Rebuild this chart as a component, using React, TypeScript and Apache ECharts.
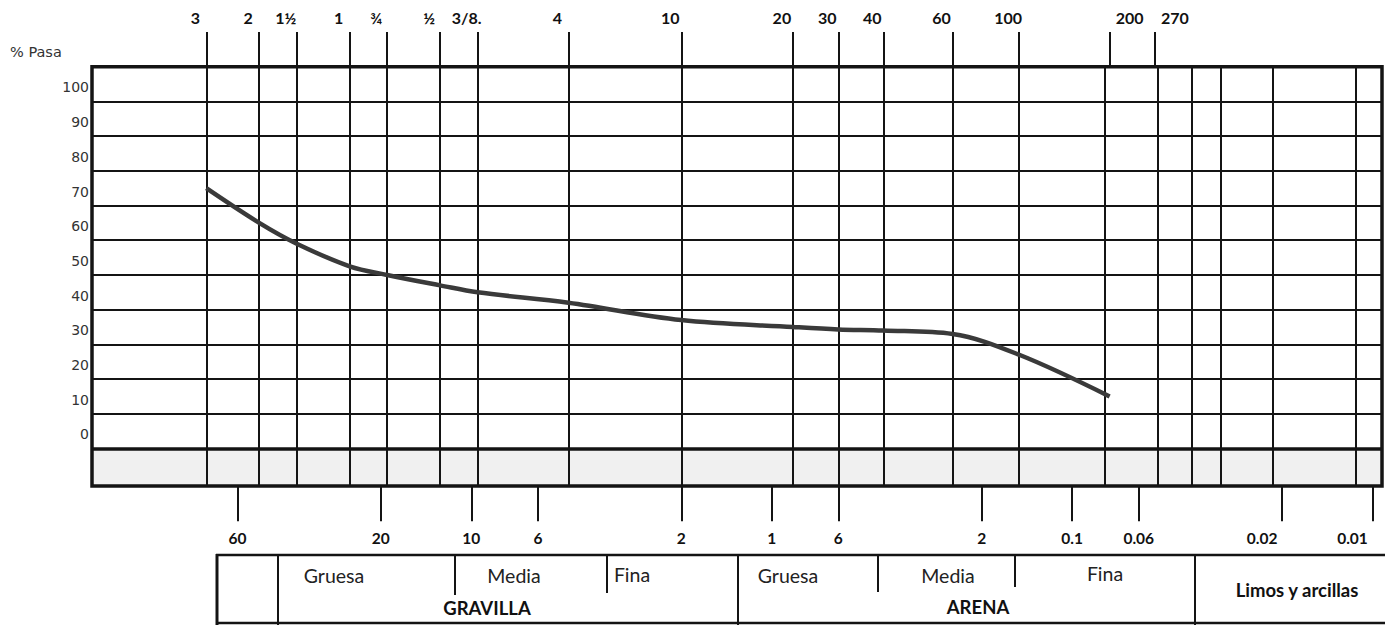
import React, { useEffect, useRef } from 'react';
import * as echarts from 'echarts';

// Sieves printed along the top (label, opening in mm)
const sieveLabels = ['3', '2', '1½', '1', '¾', '½', '3/8.', '4', '10', '20', '30', '40', '60', '100', '200', '270'];
const sieveOpeningsMM = [76.2, 50.8, 38.1, 25.4, 19.05, 12.7, 9.525, 4.75, 2.0, 0.85, 0.6, 0.425, 0.25, 0.15, 0.075, 0.053];
// % passing (3" ... #200)
const percentPassing = [75, 65, 59, 52.5, 50, 47, 45, 42, 37, 35, 34.3, 34, 33, 27, 15];
// Sieves whose line crosses the whole grid (the rest are short ticks above it)
const fullSieveLines = 14;

// Particle size scale printed along the bottom (label as printed, size in mm)
const sizeLabels = ['60', '20', '10', '6', '2', '1', '6', '2', '0.1', '0.06', '0.02', '0.01'];
const sizeMM = [60, 20, 10, 6, 2, 1, 0.6, 0.2, 0.1, 0.06, 0.02, 0.01];
// Extra grid lines in the fines zone (mm)
const fineGridMM = [0.078, 0.052, 0.04, 0.032, 0.0215, 0.0114];

const percentTicks = [0, 10, 20, 30, 40, 50, 60, 70, 80, 90, 100];
const xRangeMM = [0.0093, 183];
const frameTop = 110;
const stripBottom = -10.8;
const tickBottom = -21;
const axisTop = 120;

const fractionNames = ['Gruesa', 'Media', 'Fina', 'Gruesa', 'Media', 'Fina'];
const groupNames = ['GRAVILLA', 'ARENA', 'Limos y arcillas'];

export default function App() {
  const ref = useRef<HTMLDivElement>(null);

  useEffect(() => {
    if (!ref.current) return;
    const chart = echarts.init(ref.current, undefined, { renderer: 'svg' });
    const ink = '#141414';

    const fracPos = [
      [334, 575], [514, 575], [632, 574], [788, 575], [948, 575], [1105, 573],
    ];
    const groupPos = [[487, 608], [978, 607], [1297, 590]];

    const tableLines: number[][] = [
      [216, 555, 1385, 555, 2.5],
      [217, 554, 217, 625, 3],
      [216, 623, 1385, 623, 2.5],
      [278, 555, 278, 625, 2],
      [738, 555, 738, 625, 2],
      [1195, 555, 1195, 625, 2],
      [455, 555, 455, 595, 2],
      [607, 555, 607, 593, 2],
      [878, 555, 878, 592, 2],
      [1015, 555, 1015, 587, 2],
    ];

    const graphic: any[] = [
      {
        type: 'text',
        x: 10,
        y: 52,
        style: { text: '% Pasa', fontFamily: 'DejaVu Sans', fontSize: 14.5, fill: '#333', verticalAlign: 'middle' },
      },
      ...tableLines.map((l) => ({
        type: 'line',
        shape: { x1: l[0], y1: l[1], x2: l[2], y2: l[3] },
        style: { stroke: ink, lineWidth: l[4] },
      })),
      ...fractionNames.map((t, i) => ({
        type: 'text',
        x: fracPos[i][0],
        y: fracPos[i][1],
        style: { text: t, fontFamily: 'Lato', fontSize: 19.5, fill: '#222', align: 'center', verticalAlign: 'middle' },
      })),
      ...groupNames.map((t, i) => ({
        type: 'text',
        x: groupPos[i][0],
        y: groupPos[i][1],
        style: { text: t, fontFamily: 'Lato', fontWeight: 'bold', fontSize: 18.5, fill: '#111', align: 'center', verticalAlign: 'middle' },
      })),
    ];

    const option: any = {
      animation: false,
      backgroundColor: '#ffffff',
      grid: { left: 92, right: 3, top: 32, bottom: 72.4, containLabel: false, outerBoundsMode: 'none' },
      xAxis: {
        type: 'log',
        logBase: 10,
        inverse: true,
        min: xRangeMM[0],
        max: xRangeMM[1],
        axisLine: { show: false },
        axisTick: { show: false },
        axisLabel: { show: false },
        splitLine: { show: false },
      },
      yAxis: {
        type: 'value',
        min: -30,
        max: axisTop,
        interval: 10,
        axisLine: { show: false },
        axisTick: { show: false },
        splitLine: { show: false },
        axisLabel: {
          formatter: (v: number) => (percentTicks.indexOf(v) >= 0 ? String(v) : ''),
          verticalAlign: 'bottom',
          padding: [0, 0, 7, 0],
          margin: 3,
          color: '#333',
          fontFamily: 'DejaVu Sans',
          fontSize: 14,
        },
      },
      graphic,
      series: [
        {
          type: 'line',
          name: 'strip',
          data: [],
          silent: true,
          z: 1,
          markArea: {
            silent: true,
            itemStyle: { color: '#f0f0f0' },
            data: [[{ coord: [xRangeMM[1], 0] }, { coord: [xRangeMM[0], stripBottom] }]],
          },
        },
        {
          type: 'line',
          name: 'horizontal',
          data: [],
          silent: true,
          z: 2,
          markLine: {
            silent: true,
            symbol: ['none', 'none'],
            label: { show: false },
            lineStyle: { color: ink, width: 2, type: 'solid' },
            data: percentTicks.map((v) => ({ yAxis: v, lineStyle: { color: ink, type: 'solid', width: v === 0 ? 3.5 : 2 } })),
          },
        },
        {
          type: 'line',
          name: 'sieves',
          data: [],
          silent: true,
          z: 3,
          markLine: {
            silent: true,
            symbol: ['none', 'none'],
            lineStyle: { color: ink, width: 2, type: 'solid' },
            label: {
              show: true,
              position: 'end',
              formatter: '{b}',
              distance: 7,
              fontFamily: 'Lato',
              fontWeight: 'bold',
              fontSize: 16,
              color: '#111',
            },
            data: sieveOpeningsMM.map((d, i) => [
              {
                name: sieveLabels[i],
                coord: [d, i < fullSieveLines ? stripBottom : frameTop],
                label: { padding: i < fullSieveLines ? [0, 22, 0, 0] : [0, 0, 0, 40] },
              },
              { coord: [d, axisTop] },
            ]),
          },
        },
        {
          type: 'line',
          name: 'fines',
          data: [],
          silent: true,
          z: 3,
          markLine: {
            silent: true,
            symbol: ['none', 'none'],
            label: { show: false },
            lineStyle: { color: ink, width: 2, type: 'solid' },
            data: fineGridMM.map((d) => [{ coord: [d, stripBottom] }, { coord: [d, frameTop] }]),
          },
        },
        {
          type: 'line',
          name: 'sizes',
          data: [],
          silent: true,
          z: 3,
          markLine: {
            silent: true,
            symbol: ['none', 'none'],
            lineStyle: { color: ink, width: 2, type: 'solid' },
            label: {
              show: true,
              position: 'end',
              formatter: '{b}',
              distance: 9,
              fontFamily: 'Lato',
              fontWeight: 'bold',
              fontSize: 15.5,
              color: '#111',
            },
            data: sizeMM.map((d, i) => [
              {
                name: sizeLabels[i],
                coord: [d, stripBottom],
                label: { padding: i >= sizeMM.length - 2 ? [0, 40, 0, 0] : [0, 0, 0, 0] },
              },
              { coord: [d, tickBottom] },
            ]),
          },
        },
        {
          type: 'line',
          name: 'frame',
          data: [],
          silent: true,
          z: 4,
          markArea: {
            silent: true,
            itemStyle: { color: 'rgba(0,0,0,0)', borderColor: ink, borderWidth: 3.5 },
            data: [[{ coord: [xRangeMM[1], frameTop] }, { coord: [xRangeMM[0], stripBottom] }]],
          },
        },
        {
          type: 'line',
          name: '% Pasa',
          data: percentPassing.map((p, i) => [sieveOpeningsMM[i], p]),
          smooth: 0.35,
          symbol: 'none',
          z: 10,
          lineStyle: { color: '#3a3a3a', width: 4.5 },
        },
      ],
    };

    chart.setOption(option);
    return () => chart.dispose();
  }, []);

  return <div ref={ref} style={{ position: 'fixed', left: 0, top: 0, width: 1385, height: 625 }} />;
}
